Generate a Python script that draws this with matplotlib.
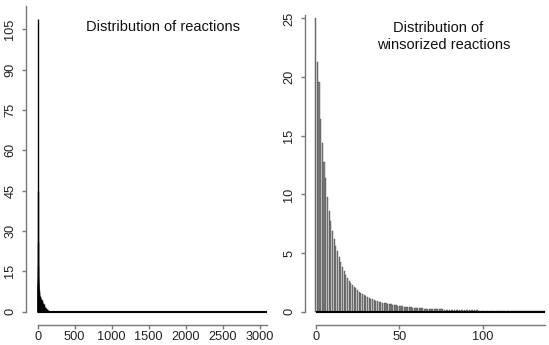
import matplotlib
matplotlib.use("Agg")
import matplotlib.pyplot as plt

plt.rcParams['font.family'] = ['Liberation Sans', 'DejaVu Sans']

# Left panel: raw reactions (sparse sampling of the dense head, tail is ~0)
raw_x = [0, 1, 2, 3, 4, 5, 6, 7, 8, 10, 12, 15, 20, 25, 30, 35, 40, 45, 50, 55,
         60, 70, 80, 90, 100, 110, 120, 130, 140, 150, 160, 170, 200, 3100]
raw_y = [109, 45, 26, 17, 13, 11.5, 10.5, 9.8, 9.2, 8.5, 8.0, 7.4, 6.6, 6.0, 5.5, 5.1, 4.8, 4.6, 4.4, 4.2,
         3.9, 3.3, 2.8, 2.2, 1.8, 1.4, 1.1, 0.8, 0.6, 0.4, 0.3, 0.2, 0.1, 0.0]
raw_yticks = [0, 15, 30, 45, 60, 75, 90, 105]
raw_xticks = [0, 500, 1000, 1500, 2000, 2500, 3000]

# Right panel: winsorized reactions, one bar per integer value 0..137
win_y = [25.0, 21.3, 19.6, 16.4, 14.4, 12.8, 11.4, 9.8, 8.6, 7.7,
         6.9, 6.2, 5.6, 5.2, 4.7, 4.2, 3.8, 3.45, 3.15, 2.9,
         2.65, 2.45, 2.28, 2.12, 1.98, 1.84, 1.72, 1.6, 1.5, 1.4,
         1.32, 1.25, 1.18, 1.12, 1.06, 1.0, 0.95, 0.9, 0.86, 0.82,
         0.78, 0.74, 0.71, 0.68, 0.65, 0.62, 0.59, 0.56, 0.54, 0.52,
         0.5, 0.48, 0.46, 0.44, 0.42, 0.4, 0.38, 0.37, 0.35, 0.34,
         0.32, 0.31, 0.3, 0.29, 0.28, 0.27, 0.26, 0.25, 0.24, 0.23,
         0.22, 0.22, 0.21, 0.2, 0.2, 0.19, 0.19, 0.18, 0.18, 0.17,
         0.17, 0.16, 0.16, 0.16, 0.15, 0.15, 0.15, 0.14, 0.14, 0.13,
         0.13, 0.13, 0.12, 0.12, 0.12, 0.11, 0.11, 0.11, 0.1, 0.1,
         0.1, 0.1, 0.09, 0.09, 0.09, 0.09, 0.08, 0.08, 0.08, 0.08,
         0.08, 0.07, 0.07, 0.07, 0.07, 0.07, 0.06, 0.06, 0.06, 0.06,
         0.06, 0.06, 0.05, 0.05, 0.05, 0.05, 0.05, 0.05, 0.05, 0.04,
         0.04, 0.04, 0.04, 0.04, 0.04, 0.04, 0.04, 0.04]
win_x = list(range(len(win_y)))
win_yticks = [0, 5, 10, 15, 20, 25]
win_xticks = [0, 50, 100]

W, H = 549, 345
fig = plt.figure(figsize=(W / 100, H / 100), dpi=100)

def px_axes(x0, x1, y0, y1):
    return fig.add_axes([x0 / W, 1 - y1 / H, (x1 - x0) / W, (y1 - y0) / H])

axis_col = '#777777'
tick_fs = 9.2

def style(ax, xticks, yticks, xmax, ytop, yout, xout):
    for s in ['top', 'right']:
        ax.spines[s].set_visible(False)
    ax.spines['left'].set_position(('outward', yout))
    ax.spines['bottom'].set_position(('outward', xout))
    ax.spines['left'].set_bounds(0, ytop)
    ax.spines['bottom'].set_bounds(0, xmax)
    for s in ['left', 'bottom']:
        ax.spines[s].set_color(axis_col)
        ax.spines[s].set_linewidth(1.0)
    ax.set_xticks(xticks)
    ax.set_yticks(yticks)
    ax.tick_params(axis='both', colors=axis_col, labelcolor='#222222',
                   labelsize=tick_fs, length=3, width=1.0)
    ax.tick_params(axis='x', pad=1.5)
    ax.tick_params(axis='y', pad=4)
    for lab in ax.get_yticklabels():
        lab.set_rotation(90)
        lab.set_va('center')
    ax.patch.set_alpha(0)

# Left panel
ax1 = px_axes(34, 270.8, 6.4, 317.1)
ax1.set_xlim(-50, 3150)
ax1.set_ylim(-2, 113.5)
ax1.vlines(raw_x, 0, raw_y, color='black', linewidth=1.0)
ax1.hlines(0, 0, max(raw_x), color='black', linewidth=1.5)
style(ax1, raw_xticks, raw_yticks, max(raw_x), 113.5, 5.7, 5.5)
ax1.text(1700, 106, 'Distribution of reactions', ha='center', va='center',
         fontsize=10.5, color='#111111')

# Right panel
ax2 = px_axes(310.7, 548.9, 14.9, 317.2)
ax2.set_xlim(-3, 139.5)
ax2.set_ylim(-0.47, 25.3)
ax2.bar(win_x, win_y, width=0.7, color='#808080', edgecolor='#505050',
        linewidth=0.3)
ax2.hlines(0, 0, max(win_x), color='black', linewidth=1.5)
style(ax2, win_xticks, win_yticks, max(win_x), 25.3, 4.0, 5.5)
ax2.text(73.5, 24.18, 'Distribution of', ha='center', va='center',
         fontsize=10.5, color='#111111')
ax2.text(76.6, 22.75, 'winsorized reactions', ha='center', va='center',
         fontsize=10.5, color='#111111')

fig.savefig('out.png', dpi=100)
